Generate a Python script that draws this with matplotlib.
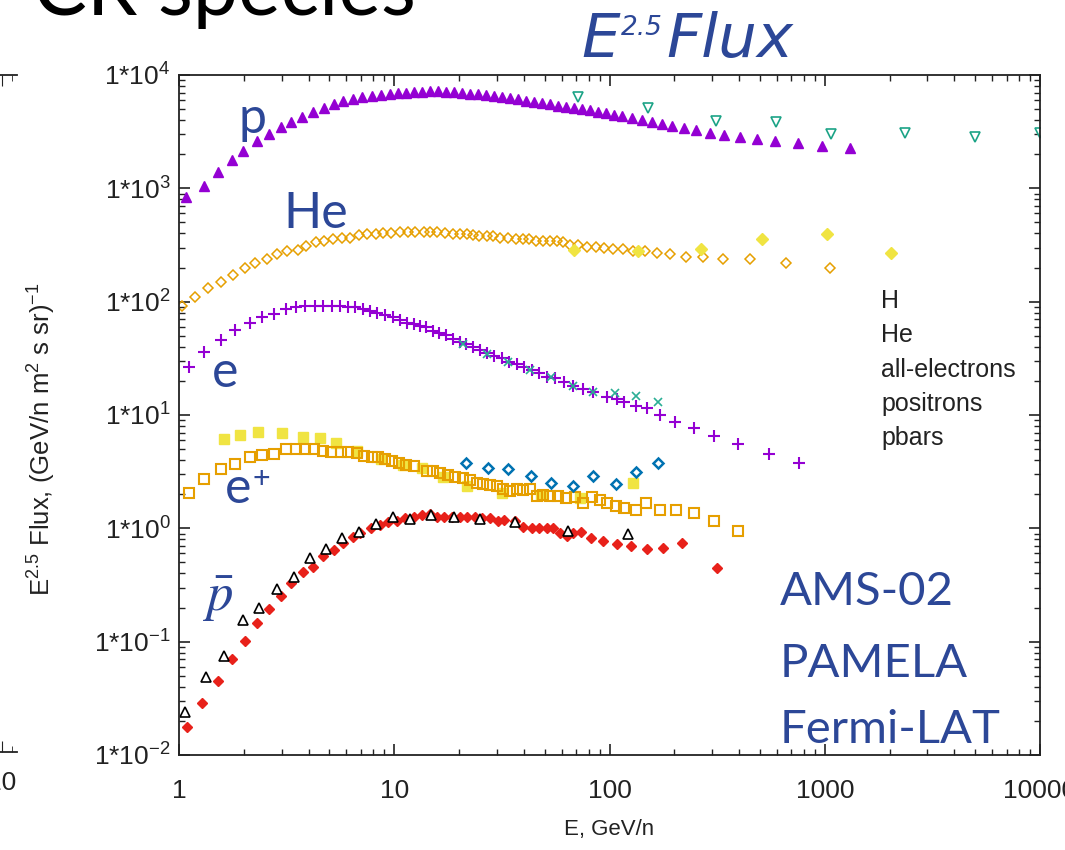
import numpy as np
import matplotlib
matplotlib.use('Agg')
import matplotlib.pyplot as plt
from matplotlib.ticker import LogLocator, FuncFormatter, FixedLocator, NullLocator

plt.rcParams['font.family'] = ['Liberation Sans', 'DejaVu Sans']
plt.rcParams['mathtext.fontset'] = 'custom'
plt.rcParams['mathtext.rm'] = 'Liberation Sans'
plt.rcParams['mathtext.it'] = 'Liberation Sans:italic'

# ---- data (E in GeV/n, E^2.5 * flux) ----
# protons (AMS-02 style, filled triangles)
p_E = [1.08, 1.31, 1.52, 1.76, 1.98, 2.30, 2.62, 2.98, 3.31, 3.73, 4.19, 4.72, 5.25, 5.78,
       6.43, 7.08, 7.88, 8.68, 9.55, 10.4, 11.3, 12.4, 13.5, 14.7, 16.0, 17.4, 18.9, 20.6,
       22.5, 24.5, 26.7, 29.1, 31.7, 34.5, 37.6, 40.9, 44.6, 48.6, 52.9, 57.7, 62.8, 68.4,
       74.5, 81.2, 88.4, 96.3, 105, 114, 127, 142, 157, 175, 195, 222, 252, 293, 340, 404,
       484, 587, 751, 971, 1310]
p_F = [841, 1052, 1400, 1786, 2143, 2626, 3027, 3491, 3864, 4276, 4732, 5140, 5570, 5916,
       6166, 6427, 6550, 6683, 6823, 6966, 6966, 7112, 7112, 7261, 7261, 7112, 7112, 6966,
       6823, 6823, 6683, 6550, 6427, 6295, 6166, 5916, 5795, 5690, 5570, 5346, 5240, 5140,
       5035, 4932, 4732, 4634, 4457, 4365, 4188, 4027, 3864, 3707, 3565, 3420, 3281, 3090,
       2965, 2851, 2735, 2626, 2523, 2372, 2275]
# high-energy H points (open down triangles)
h2_E = [71.4, 151, 312, 594, 1069, 2360, 4990, 10000]
h2_F = [6427, 5140, 3945, 3864, 3027, 3090, 2851, 3090]

# helium (open diamonds)
he_E = [1.03, 1.19, 1.36, 1.56, 1.78, 2.02, 2.26, 2.56, 2.84, 3.17, 3.56, 3.89, 4.33, 4.73,
        5.21, 5.70, 6.23, 6.86, 7.50, 8.20, 8.90, 9.66, 10.6, 11.6, 12.5, 13.7, 14.7, 15.8,
        17.2, 18.7, 20.2, 21.7, 23.1, 24.8, 26.9, 28.9, 31.0, 33.9, 36.7, 39.5, 42.4, 45.6,
        49.0, 52.9, 56.9, 61.0, 65.6, 71.6, 78.3, 86.6, 94.6, 103.5, 115, 128, 146, 166,
        191, 226, 271, 337, 450, 659, 1058]
he_F = [91.8, 110, 131, 150, 173, 199, 221, 237, 261, 281, 288, 309, 333, 344, 356, 368,
        368, 391, 397, 397, 403, 403, 410, 410, 410, 410, 410, 410, 403, 397, 397, 397, 389,
        381, 376, 376, 368, 368, 358, 358, 358, 346, 346, 340, 340, 333, 319, 316, 306, 301,
        297, 290, 290, 281, 281, 271, 262, 250, 250, 237, 237, 221, 198]
he2_E = [68.6, 135, 265, 511, 1021, 2037]
he2_F = [287, 281, 290, 356, 397, 271]

# all-electrons (plus signs)
el_E = [1.11, 1.30, 1.57, 1.82, 2.14, 2.44, 2.76, 3.13, 3.50, 3.85, 4.28, 4.68, 5.12, 5.60,
        6.12, 6.57, 7.18, 7.72, 8.34, 9.06, 9.84, 10.6, 11.5, 12.3, 13.2, 14.1, 15.2, 16.2,
        17.4, 18.7, 20.1, 21.5, 23.1, 25.0, 27.1, 29.2, 31.6, 34.2, 37.1, 40.1, 43.5, 47.2,
        51.1, 55.8, 61.5, 67.9, 75.5, 83.6, 97.1, 108, 117, 133, 149, 172, 202, 248, 307,
        397, 551, 762]
el_F = [26.4, 36.3, 46.0, 56.4, 65.4, 73.0, 78.0, 85.9, 89.4, 92.4, 92.4, 92.4, 92.4, 92.4,
        89.4, 89.4, 85.9, 83.4, 79.2, 76.5, 73.9, 69.1, 65.4, 63.7, 61.5, 60.3, 55.6, 53.4,
        50.9, 46.7, 43.9, 42.4, 40.2, 37.6, 35.6, 33.2, 31.7, 29.6, 28.2, 26.7, 24.7, 23.4,
        21.8, 21.1, 19.5, 18.2, 16.9, 15.9, 14.5, 13.9, 12.9, 11.9, 11.5, 10.0, 8.75, 7.64,
        6.58, 5.56, 4.51, 3.80]
el2_E = [20.9, 26.9, 33.9, 42.7, 53.5, 67.9, 84.1, 106, 133, 168]
el2_F = [42.4, 34.6, 29.6, 24.7, 21.8, 18.2, 15.8, 15.6, 14.7, 12.9]

# positrons
pos_E = [1.11, 1.31, 1.57, 1.82, 2.14, 2.42, 2.75, 3.14, 3.50, 3.85, 4.25, 4.68, 5.08, 5.64,
         6.12, 6.69, 7.26, 7.86, 8.43, 9.06, 9.73, 10.5, 11.4, 12.4, 14.2, 15.2, 16.3, 17.8,
         19.2, 20.8, 22.5, 24.2, 25.9, 27.9, 29.9, 32.1, 34.5, 37.1, 39.8, 42.7, 45.9, 49.3,
         52.9, 57.8, 62.8, 69.2, 75.5, 82.7, 90.3, 97.7, 107, 117, 133, 148, 172, 203, 248,
         307, 397]
pos_F = [2.07, 2.71, 3.32, 3.70, 4.24, 4.42, 4.54, 5.02, 5.02, 5.02, 5.02, 4.82, 4.75, 4.70,
         4.70, 4.60, 4.39, 4.30, 4.24, 4.07, 3.96, 3.80, 3.63, 3.56, 3.23, 3.23, 3.10, 2.96,
         2.86, 2.77, 2.67, 2.53, 2.47, 2.42, 2.37, 2.21, 2.15, 2.21, 2.18, 2.21, 1.91, 1.97,
         1.91, 1.91, 1.85, 1.88, 1.67, 1.88, 1.78, 1.67, 1.56, 1.50, 1.45, 1.67, 1.45, 1.45,
         1.36, 1.17, 0.955]
pos2_E = [1.62, 1.92, 2.34, 3.02, 3.76, 4.52, 5.35, 6.69, 8.68, 11.0, 13.4, 16.8, 21.8,
          31.6, 48.0, 72.9, 128]
pos2_F = [6.11, 6.67, 7.05, 6.91, 6.45, 6.24, 5.64, 4.85, 4.07, 3.59, 3.38, 2.81, 2.34,
          2.05, 1.97, 1.85, 2.53]
pos3_E = [21.5, 27.4, 33.9, 43.0, 53.5, 67.5, 84.1, 107, 133, 168]
pos3_F = [3.80, 3.43, 3.32, 2.90, 2.53, 2.37, 2.90, 2.45, 3.13, 3.80]

# antiprotons
pb_E = [1.09, 1.28, 1.51, 1.76, 2.03, 2.30, 2.62, 2.98, 3.30, 3.76, 4.21, 4.68, 5.27, 5.76,
        6.41, 6.93, 7.80, 8.59, 9.38, 10.3, 11.2, 12.3, 13.4, 14.6, 15.8, 17.0, 18.5, 20.1,
        21.7, 23.6, 25.5, 27.9, 30.2, 32.5, 36.4, 39.8, 43.5, 47.2, 51.1, 54.8, 58.9, 63.3,
        67.9, 73.5, 81.8, 93.6, 108, 126, 149, 178, 217, 317]
pb_F = [0.0178, 0.0290, 0.0453, 0.0708, 0.101, 0.147, 0.193, 0.253, 0.332, 0.415, 0.459,
        0.571, 0.645, 0.748, 0.845, 0.916, 1.00, 1.07, 1.14, 1.17, 1.23, 1.27, 1.31, 1.33,
        1.27, 1.27, 1.27, 1.27, 1.25, 1.25, 1.23, 1.23, 1.16, 1.19, 1.15, 1.02, 1.00, 1.00,
        1.00, 1.00, 0.905, 0.857, 0.905, 0.935, 0.828, 0.774, 0.724, 0.699, 0.654, 0.676,
        0.748, 0.444]
pb2_E = [1.07, 1.34, 1.62, 1.99, 2.36, 2.84, 3.43, 4.06, 4.82, 5.70, 6.86, 8.23, 9.84,
         11.8, 14.8, 19.0, 25.0, 36.4, 64.0, 122]
pb2_F = [0.0241, 0.0485, 0.0748, 0.155, 0.200, 0.290, 0.373, 0.545, 0.654, 0.828, 0.924,
         1.09, 1.25, 1.21, 1.30, 1.26, 1.21, 1.13, 0.948, 0.887]

legend_lines = ['H', 'He', 'all-electrons', 'positrons', 'pbars']
x_ticks = [1, 10, 100, 1000, 10000]

W, H = 1065, 850
fig = plt.figure(figsize=(W / 100, H / 100), dpi=100)
fig.patch.set_facecolor('white')


def fx(x):
    return x / W


def fy(y):
    return 1 - y / H


blue = '#2C4797'
violet = '#9400D3'
orange = '#E69F00'
yellow = '#F0E442'
ink = '#222222'

ax = fig.add_axes([fx(179), fy(755), (1040 - 179) / W, (755 - 75) / H])
ax.set_xscale('log')
ax.set_yscale('log')

ax.plot(p_E, p_F, ls='none', marker='^', ms=7, color=violet, mec=violet)
ax.plot(h2_E, h2_F, ls='none', marker='v', ms=7, mfc='white', mec='#1BA386', mew=1.2)
ax.plot(he_E, he_F, ls='none', marker='D', ms=5.5, mfc='none', mec=orange, mew=1.1)
ax.plot(he2_E, he2_F, ls='none', marker='D', ms=6, color=yellow, mec=yellow)
ax.plot(el_E, el_F, ls='none', marker='+', ms=8, color=violet, mew=1.5)
ax.plot(el2_E, el2_F, ls='none', marker='x', ms=6, color='#2AAE95', mew=1.2)
ax.plot(pos2_E, pos2_F, ls='none', marker='s', ms=7.5, color=yellow, mec=yellow)
ax.plot(pos_E, pos_F, ls='none', marker='s', ms=7, mfc='none', mec=orange, mew=1.5)
ax.plot(pos3_E, pos3_F, ls='none', marker='D', ms=5, mfc='none', mec='#0072B2', mew=1.8)
ax.plot(pb_E, pb_F, ls='none', marker='D', ms=5, color='#E8211A', mec='#E8211A')
ax.plot(pb2_E, pb2_F, ls='none', marker='^', ms=7, mfc='white', mec='black', mew=1.2)

ax.set_xlim(1, 1e4)
ax.set_ylim(1e-2, 1e4)
for a in (ax.xaxis, ax.yaxis):
    a.set_major_locator(LogLocator(base=10, numticks=12))
    a.set_minor_locator(LogLocator(base=10, subs=np.arange(2, 10), numticks=12))
ax.set_xticks(x_ticks)
ax.xaxis.set_major_formatter(FuncFormatter(lambda v, _: f'{v:g}'))
ax.yaxis.set_major_formatter(
    FuncFormatter(lambda v, _: '1*10$^{%d}$' % int(round(np.log10(v)))))
ax.tick_params(which='both', direction='in', top=True, right=True, colors=ink,
               labelsize=19)
ax.tick_params(which='major', length=8, width=1.2)
ax.tick_params(which='minor', length=4, width=1.0)
ax.tick_params(axis='x', which='major', pad=17)
ax.tick_params(axis='y', which='major', pad=6)
for s in ax.spines.values():
    s.set_linewidth(1.3)
    s.set_color(ink)

ax.set_xlabel('E, GeV/n', fontsize=16, color=ink, labelpad=12)
ax.set_ylabel('E$^{2.5}$ Flux, (GeV/n m$^{2}$ s sr)$^{-1}$', fontsize=18.5, color=ink)
ax.yaxis.set_label_coords((58 - 179) / 861, (755 - 439) / 680)

# legend text (markers are not shown in the original)
for i, name in enumerate(legend_lines):
    fig.text(fx(881), fy(308 + 34.3 * i), name, fontsize=18, color=ink, va='baseline')

# fragment of the neighbouring plot at the left edge
ax0 = fig.add_axes([fx(-100), fy(752), 117 / W, (752 - 75) / H])
ax0.set_xlim(-100, 17)
ax0.xaxis.set_major_locator(FixedLocator([2]))
ax0.xaxis.set_minor_locator(FixedLocator([12]))
ax0.set_xticklabels(['10'])
ax0.yaxis.set_major_locator(NullLocator())
ax0.spines['left'].set_visible(False)
ax0.spines['right'].set_visible(False)
for s in ax0.spines.values():
    s.set_linewidth(1.3)
    s.set_color(ink)
ax0.tick_params(which='both', direction='in', top=True, colors=ink, labelsize=19)
ax0.tick_params(which='major', length=8, pad=14)
ax0.tick_params(which='minor', length=4)

# slide texts
fig.text(fx(33), fy(15), 'CR species', fontsize=58, family='Lato', color='black',
         va='baseline')
ttl = dict(style='italic', family='DejaVu Sans', color=blue, va='baseline')
fig.text(fx(581), fy(57), 'E', fontsize=44, **ttl)
fig.text(fx(621), fy(35), '2.5', fontsize=19, **ttl)
fig.text(fx(666), fy(57), 'Flux', fontsize=44, **ttl)

lab = dict(fontsize=36, family='Lato', color=blue, va='baseline')
fig.text(fx(238), fy(133), 'p', **lab)
fig.text(fx(283), fy(228), 'He', **lab)
fig.text(fx(212), fy(387), 'e', **lab)
fig.text(fx(225), fy(503), 'e', **lab)
fig.text(fx(252), fy(488), '+', fontsize=22, family='Lato', color=blue, va='baseline')
fig.text(fx(203), fy(611), r'$\bar{p}$', fontsize=38, math_fontfamily='stix', color=blue,
         va='baseline')

exp = dict(fontsize=34, family='Lato', color=blue, va='baseline')
fig.text(fx(780), fy(605), 'AMS-02', **exp)
fig.text(fx(780), fy(677), 'PAMELA', **exp)
fig.text(fx(780), fy(743), 'Fermi-LAT', **exp)

fig.savefig('out.png', dpi=100)
